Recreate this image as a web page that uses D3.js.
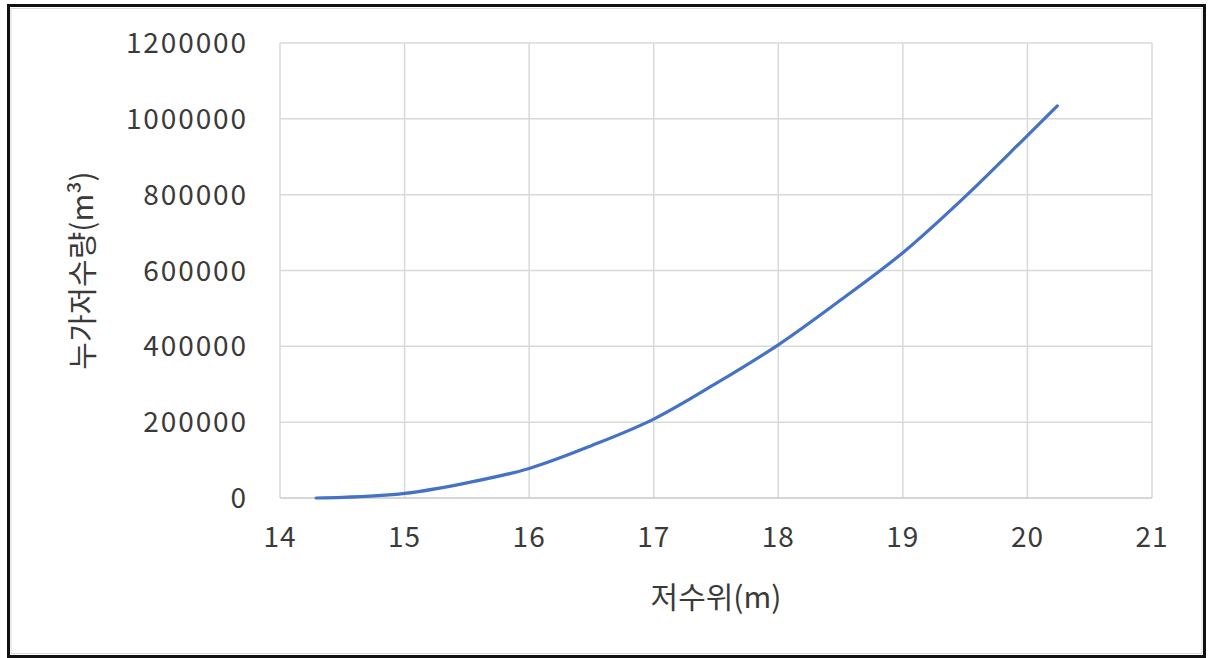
<!DOCTYPE html>
<html><head><meta charset="utf-8">
<script src="https://cdn.jsdelivr.net/npm/d3@7"></script>
<style>body{margin:0;background:#fff;} text{font-family:"Noto Sans CJK KR","Noto Sans",sans-serif;fill:#3a3a3a;}</style>
</head><body>
<svg id="c" width="1210" height="658"></svg>
<script>
const levels = [14.29, 14.5, 15, 15.5, 16, 16.5, 17, 17.5, 18, 18.5, 19, 19.5, 20, 20.24];
const volumes = [0, 1500, 12000, 40000, 78000, 138000, 208000, 302000, 404000, 522000, 647000, 795000, 956000, 1034000];
const xTicks = [14, 15, 16, 17, 18, 19, 20, 21];
const yTicks = [0, 200000, 400000, 600000, 800000, 1000000, 1200000];
const xTitle = "저수위(m)";
const yTitle = "누가저수량(m³)";

const svg = d3.select("#c");
svg.append("rect").attr("x",0).attr("y",0).attr("width",1210).attr("height",658).attr("fill","#fff");
svg.append("rect").attr("x",11).attr("y",8.5).attr("width",1191).attr("height",645).attr("fill","none").attr("stroke","#d9d9d9").attr("stroke-width",1);
svg.append("rect").attr("x",8.5).attr("y",5.5).attr("width",1196).attr("height",651).attr("fill","none").attr("stroke","#111").attr("stroke-width",3);

const L=280, R=1152, T=43, B=498;
const x = d3.scaleLinear().domain([14,21]).range([L,R]);
const y = d3.scaleLinear().domain([0,1200000]).range([B,T]);

const g = svg.append("g");
g.selectAll("line.v").data(xTicks).join("line")
  .attr("x1",d=>x(d)).attr("x2",d=>x(d)).attr("y1",T).attr("y2",B)
  .attr("stroke","#d9d9d9").attr("stroke-width",1.5);
g.selectAll("line.h").data(yTicks).join("line")
  .attr("x1",L).attr("x2",R).attr("y1",d=>y(d)).attr("y2",d=>y(d))
  .attr("stroke",d=>d===0?"#c8c8c8":"#d9d9d9").attr("stroke-width",1.5);

g.selectAll("text.xt").data(xTicks).join("text")
  .attr("x",d=>x(d)).attr("y",B+49).attr("text-anchor","middle")
  .attr("font-size",28).attr("letter-spacing","1px").text(d=>d);
g.selectAll("text.yt").data(yTicks).join("text")
  .attr("x",L-32).attr("y",d=>y(d)+10).attr("text-anchor","end")
  .attr("font-size",28).attr("letter-spacing","1.9px").text(d=>d);

const line = d3.line().x((d,i)=>x(levels[i])).y(d=>y(d)).curve(d3.curveMonotoneX);
svg.append("path").datum(volumes).attr("d",line).attr("fill","none")
  .attr("stroke","#4472C4").attr("stroke-width",3.2).attr("stroke-linecap","round");

svg.append("text").attr("x",(L+R)/2).attr("y",608).attr("text-anchor","middle")
  .attr("font-size",30).text(xTitle);
svg.append("text").attr("transform",`translate(93,${(T+B)/2}) rotate(-90)`)
  .attr("text-anchor","middle").attr("font-size",30).text(yTitle);
</script>
</body></html>
